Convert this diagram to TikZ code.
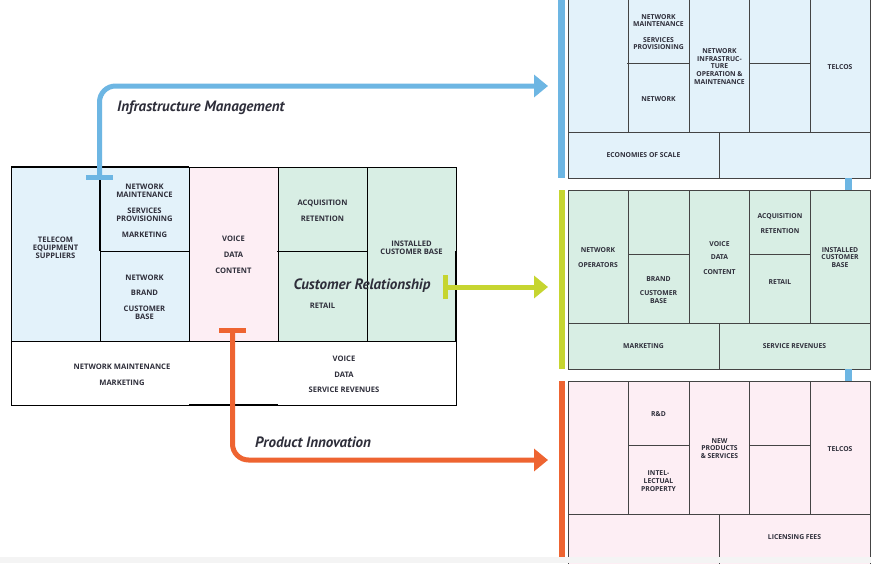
\documentclass[tikz,border=0pt]{standalone}
\usepackage{fontspec}
\setmainfont{Open Sans}
\newfontfamily\labelfont{PT Sans}
\usetikzlibrary{arrows.meta}
\definecolor{iblue}{HTML}{6DB6E3}
\definecolor{igreen}{HTML}{C6D530}
\definecolor{iorange}{HTML}{EE6431}
\definecolor{fblue}{HTML}{E3F2FA}
\definecolor{fgreen}{HTML}{D8EEE4}
\definecolor{fpink}{HTML}{FDEEF4}
\definecolor{ink}{HTML}{2E2E3A}
\definecolor{pline}{HTML}{444444}
\definecolor{stripgray}{HTML}{F4F4F4}
\begin{document}
\begin{tikzpicture}[x=1pt,y=-1pt,
  thinline/.style={draw=black,line width=0.7pt},
  thickline/.style={draw=black,line width=2pt},
  pl/.style={draw=pline,line width=0.9pt},
  txtL/.style={font=\fontsize{7.6}{8}\selectfont\bfseries,text=ink,align=center,inner sep=0pt},
  txtR/.style={font=\fontsize{6.8}{7.6}\selectfont\bfseries,text=ink,align=center,inner sep=0pt},
  lbl/.style={font=\labelfont\fontsize{15}{17}\selectfont\bfseries\itshape,text=ink,inner sep=0pt},
  flow/.style={line width=5pt,rounded corners=16pt,-{Triangle[length=14pt,width=22pt]}},
  tbar/.style={line width=5pt}]
\useasboundingbox (0,0) rectangle (871,563);
\fill[white] (0,0) rectangle (871,563);

% ---------- left canvas ----------
\fill[fblue] (11,167) rectangle (189,341);
\fill[fpink] (189,167) rectangle (278,341);
\fill[fgreen] (278,167) rectangle (456,341);
\draw[thinline] (11,167) rectangle (456,405);
\draw[thinline] (11,341) -- (456,341);
\foreach \x in {100,189,278,367} \draw[thinline] (\x,167) -- (\x,341);
\draw[thinline] (100,251) -- (189,251);
\draw[thinline] (277,251) -- (367,251);
\draw[thickline] (11,167) -- (189,167);
\draw[thickline] (100,167) -- (100,251);
\draw[thickline] (189,405) -- (278,405);
\draw[thickline] (456,251) -- (456,341);

\node[txtL] (tes) at (55.5,248) {TELECOM\\EQUIPMENT\\SUPPLIERS};
\node[txtL] (nms) at (144.5,211) {NETWORK\\MAINTENANCE\\[8pt]SERVICES\\PROVISIONING\\[8pt]MARKETING};
\node[txtL] (nbc) at (144.5,297.5) {NETWORK\\[7pt]BRAND\\[8pt]CUSTOMER\\BASE};
\node[txtL] (vdc) at (233.5,255) {VOICE\\[8pt]DATA\\[8pt]CONTENT};
\node[txtL] (acq) at (322.5,211) {ACQUISITION\\[8pt]RETENTION};
\node[txtL] (ret) at (322.5,306) {RETAIL};
\node[txtL] (icb) at (411.5,247.5) {INSTALLED\\CUSTOMER BASE};
\node[txtL] (nmm) at (122,375) {NETWORK MAINTENANCE\\[8pt]MARKETING};
\node[txtL] (vds) at (344,374.5) {VOICE\\[8pt]DATA\\[7pt]SERVICE REVENUES};

% ---------- right panels ----------
% top panel (blue)
\fill[fblue] (568,-3) rectangle (870,178);
\draw[pl] (568,-3) rectangle (870,178);
\draw[pl] (568,132) -- (870,132);
\foreach \x in {628,689,749.5,810} \draw[pl] (\x,-3) -- (\x,132);
\draw[pl] (627,63) -- (689,63) (749.5,63) -- (810,63);
\draw[pl] (719,132) -- (719,178);
% middle panel (green)
\fill[fgreen] (568,190) rectangle (870,369);
\draw[pl] (568,190) rectangle (870,369);
\draw[pl] (568,323) -- (870,323);
\foreach \x in {628,689,749.5,810} \draw[pl] (\x,190) -- (\x,323);
\draw[pl] (628,254) -- (689,254) (749.5,254) -- (810,254);
\draw[pl] (719,323) -- (719,369);
% bottom panel (pink)
\fill[fpink] (568,381) rectangle (870,575);
\draw[pl] (568,381) rectangle (870,575);
\draw[pl] (568,514) -- (870,514);
\foreach \x in {628,689,749.5,810} \draw[pl] (\x,381) -- (\x,514);
\draw[pl] (628,445) -- (689,445) (749.5,445) -- (810,445);
\draw[pl] (719,514) -- (719,575);

% colour bars and links
\fill[iblue] (558,0) rectangle (565,178);
\fill[igreen] (559,190) rectangle (565,369);
\fill[iorange] (559,381) rectangle (565,560);
\fill[iblue] (845,178) rectangle (852,190);
\fill[iblue] (845,369) rectangle (852,381);

\node[txtR] (t1) at (658.5,32) {NETWORK\\MAINTENANCE\\[8pt]SERVICES\\PROVISIONING};
\node[txtR] (t2) at (658.5,99) {NETWORK};
\node[txtR] (t3) at (719.5,66.5) {NETWORK\\INFRASTRUC-\\TURE\\OPERATION \&\\MAINTENANCE};
\node[txtR] (t4) at (840,67) {TELCOS};
\node[txtR] (t5) at (643.5,155.5) {ECONOMIES OF SCALE};

\node[txtR] (m1) at (598,257.5) {NETWORK\\[7pt]OPERATORS};
\node[txtR] (m2) at (658.5,290) {BRAND\\[6pt]CUSTOMER\\BASE};
\node[txtR] (m3) at (719.5,258) {VOICE\\[6pt]DATA\\[7pt]CONTENT};
\node[txtR] (m4) at (780,223.5) {ACQUISITION\\[7pt]RETENTION};
\node[txtR] (m5) at (780,282) {RETAIL};
\node[txtR] (m6) at (840,257.5) {INSTALLED\\CUSTOMER\\BASE};
\node[txtR] (m7) at (643.5,346) {MARKETING};
\node[txtR] (m8) at (794.5,346) {SERVICE REVENUES};

\node[txtR] (b1) at (658.5,414) {R\&D};
\node[txtR] (b2) at (658.5,481) {INTEL-\\LECTUAL\\PROPERTY};
\node[txtR] (b3) at (719.5,448.5) {NEW\\PRODUCTS\\\& SERVICES};
\node[txtR] (b4) at (840,449) {TELCOS};
\node[txtR] (b5) at (794.5,537) {LICENSING FEES};

% ---------- flows ----------
\coordinate (bS) at (99.5,177);
\coordinate (bE) at (548,86);
\draw[tbar,iblue] ([xshift=-13.5pt]bS) -- ([xshift=13.5pt]bS);
\draw[flow,iblue] (bS) |- (bE);

\coordinate (gS) at (445,287);
\coordinate (gE) at (548,287);
\draw[tbar,igreen] ([yshift=-12pt]gS) -- ([yshift=12pt]gS);
\draw[flow,igreen] (gS) -- (gE);

\coordinate (oS) at (232.5,330);
\coordinate (oE) at (548,460);
\draw[tbar,iorange] ([xshift=-13.5pt]oS) -- ([xshift=13.5pt]oS);
\draw[flow,iorange] (oS) |- (oE);

\node[lbl,anchor=west] (lim) at (117,108) {Infrastructure Management};
\node[lbl] (lcr) at (362,286) {Customer Relationship};
\node[lbl,anchor=west] (lpi) at (255,442) {Product Innovation};

\fill[stripgray] (0,557) rectangle (871,563);
\end{tikzpicture}
\end{document}
